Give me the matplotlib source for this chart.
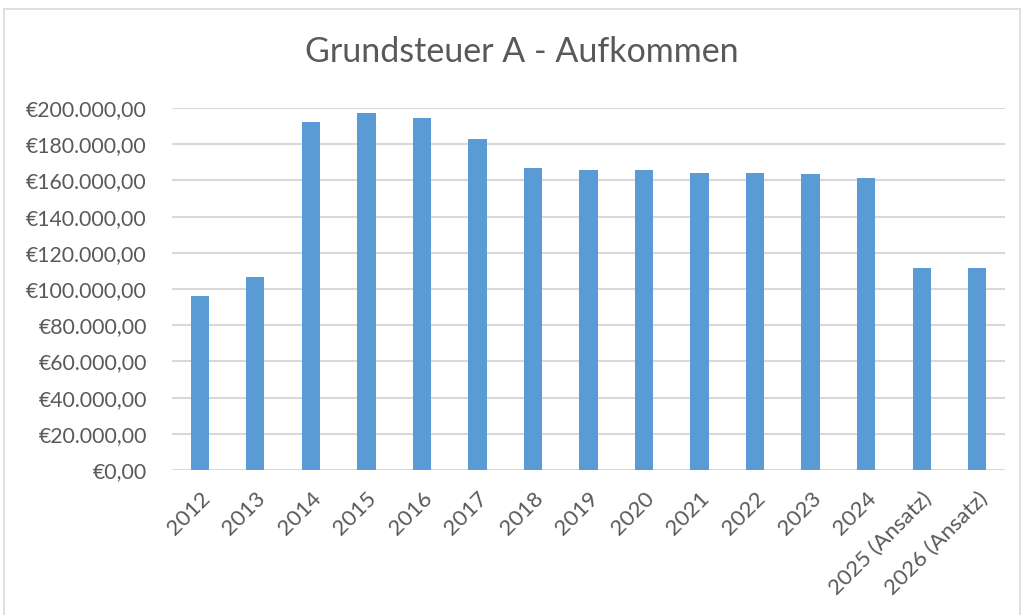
import matplotlib
matplotlib.use("Agg")
import matplotlib.pyplot as plt
from matplotlib.patches import Rectangle
from matplotlib.ticker import FuncFormatter, MultipleLocator

categories = ["2012", "2013", "2014", "2015", "2016", "2017", "2018", "2019",
              "2020", "2021", "2022", "2023", "2024", "2025 (Ansatz)", "2026 (Ansatz)"]
values = [96100, 106500, 192300, 197200, 194600, 182700, 166700, 165700,
          165700, 164100, 163900, 163500, 161500, 111600, 111600]
title = "Grundsteuer A - Aufkommen"

plt.rcParams['font.family'] = ['Lato', 'DejaVu Sans']
W, H = 1025, 615
fig = plt.figure(figsize=(W / 100, H / 100), dpi=100)
fig.patch.set_facecolor("white")

# chart border
fig.patches.append(Rectangle((4 / W, 0 - 0.01), 1016 / W, (H - 9) / H + 0.01,
                             transform=fig.transFigure, fill=False,
                             edgecolor="#d9d9d9", linewidth=1.2))

ax = fig.add_axes([172 / W, 1 - 470 / H, (1005 - 172) / W, (470 - 108) / H])
x = range(len(categories))
ax.bar(x, values, width=0.33, color="#5b9bd5", zorder=3)
ax.set_xlim(-0.5, len(categories) - 0.5)
ax.set_ylim(0, 200000)
ax.yaxis.set_major_locator(MultipleLocator(20000))


def fmt(v, pos):
    s = f"{v:,.2f}".replace(",", "X").replace(".", ",").replace("X", ".")
    return "€" + s


ax.yaxis.set_major_formatter(FuncFormatter(fmt))
ax.grid(axis="y", color="#d9d9d9", linewidth=1.5, zorder=0)
for s in ax.spines.values():
    s.set_visible(False)
ax.tick_params(axis="both", length=0, colors="#595959")
ax.tick_params(axis="y", pad=18, labelsize=15.3)
ax.set_xticks(list(x))
ax.set_xticklabels(categories, rotation=45, ha="right", rotation_mode="anchor")
ax.tick_params(axis="x", pad=13, labelsize=16)

fig.text(522 / W, 1 - 52 / H, title, ha="center", va="center",
         fontsize=24.5, color="#595959")

fig.savefig("out.png", dpi=100)
